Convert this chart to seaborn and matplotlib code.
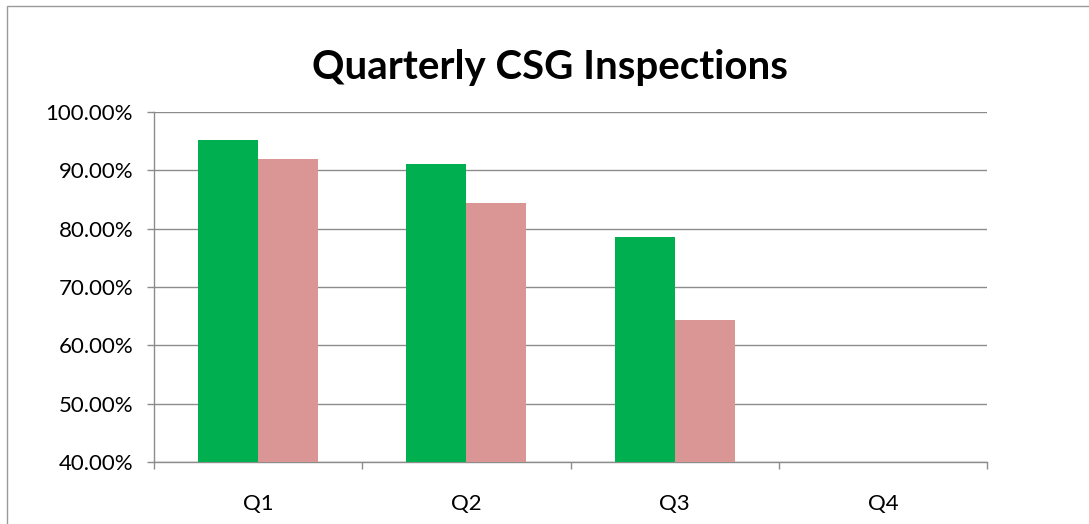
import numpy as np
import pandas as pd
import matplotlib
matplotlib.use('Agg')
import matplotlib.pyplot as plt
from matplotlib.ticker import PercentFormatter, FixedLocator
from matplotlib.patches import Rectangle
import seaborn as sns

# --- data ---
quarters = ['Q1', 'Q2', 'Q3', 'Q4']
series_a = [95.2, 91.1, 78.6, np.nan]   # green bars
series_b = [92.0, 84.4, 64.4, np.nan]   # pink bars
series_names = ['Series 1', 'Series 2']
colors = ['#00b050', '#d99694']

df = pd.DataFrame({
    'quarter': quarters * 2,
    'series': [series_names[0]] * 4 + [series_names[1]] * 4,
    'value': series_a + series_b,
})

sns.set_style('white')
plt.rcParams['font.family'] = ['Lato', 'DejaVu Sans']
plt.rcParams['text.color'] = 'black'
plt.rcParams['xtick.color'] = 'black'
plt.rcParams['ytick.color'] = 'black'

fig = plt.figure(figsize=(10.89, 5.24), dpi=100)
ax = fig.add_axes([154 / 1089, 62 / 524, 833 / 1089, 350 / 524])

sns.barplot(data=df, x='quarter', y='value', hue='series', palette=colors,
            width=0.576, saturation=1, legend=False, linewidth=0,
            ax=ax, zorder=3)

ax.set_ylim(40, 100)
ax.set_xlim(-0.5, 3.5)
ax.set_yticks(np.arange(40, 101, 10))
ax.yaxis.set_major_formatter(PercentFormatter(decimals=2))
ax.yaxis.grid(True, color='#8c8c8c', linewidth=1, zorder=0)
ax.set_xlabel('')
ax.set_ylabel('')

for side in ['top', 'right']:
    ax.spines[side].set_visible(False)
for side in ['left', 'bottom']:
    ax.spines[side].set_color('#8c8c8c')
    ax.spines[side].set_linewidth(1)

ax.tick_params(axis='y', length=5, width=1, color='#8c8c8c', pad=10,
               labelsize=16, left=True, labelcolor='black')
ax.tick_params(axis='x', which='major', length=0, pad=23, labelsize=16,
               labelcolor='black')
ax.xaxis.set_minor_locator(FixedLocator(np.arange(-0.5, 3.6, 1)))
ax.tick_params(axis='x', which='minor', length=5, width=1, color='#8c8c8c',
               bottom=True)

fig.text(550 / 1089, 1 - 67 / 524, 'Quarterly CSG Inspections', ha='center',
         va='center', fontsize=29, fontweight='bold', color='black')

# outer chart border (runs off the right and bottom edges)
fig.patches.append(Rectangle((7 / 1089, -0.1), 1.2, 1 - 6 / 524 + 0.1,
                             transform=fig.transFigure, fill=False,
                             edgecolor='#9a9a9a', linewidth=1))

fig.savefig('out.png', dpi=100)
